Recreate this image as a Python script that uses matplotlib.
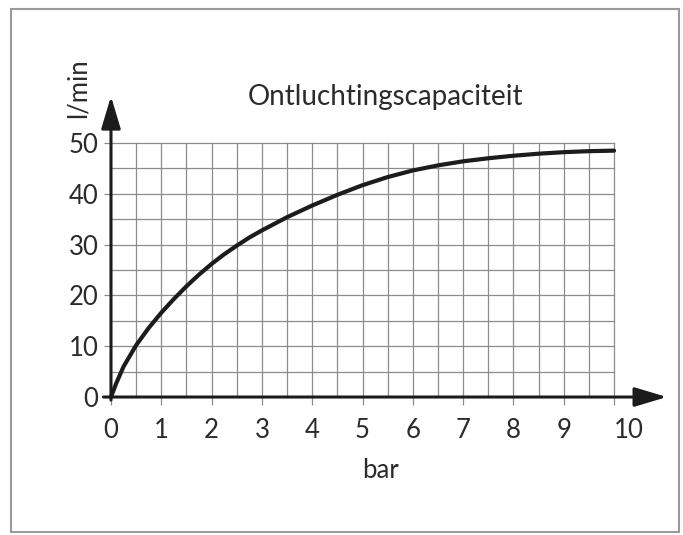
import matplotlib.pyplot as plt
from matplotlib.patches import Rectangle

# data
pressure = [0, 0.1, 0.25, 0.5, 0.75, 1, 1.25, 1.5, 1.75, 2, 2.25, 2.5, 2.75, 3,
            3.5, 4, 4.5, 5, 5.5, 6, 6.5, 7, 7.5, 8, 8.5, 9, 9.5, 10]
flow = [0, 2.6, 6.0, 10.2, 13.6, 16.6, 19.3, 21.8, 24.1, 26.2, 28.1, 29.8, 31.4, 32.8,
        35.4, 37.7, 39.8, 41.7, 43.3, 44.6, 45.6, 46.4, 47.0, 47.5, 47.9, 48.2, 48.4, 48.5]
x_ticks = list(range(0, 11))
y_ticks = list(range(0, 51, 10))
title = "Ontluchtingscapaciteit"
x_label = "bar"
y_label = "l/min"

plt.rcParams['font.family'] = ['Lato', 'DejaVu Sans']
text_color = '#2b2b2b'
grid_color = '#8c8c8c'
ink = '#1c1c1c'

fig = plt.figure(figsize=(6.83, 5.35), dpi=100)
ax = fig.add_axes([0.1625, 0.2579, 0.8249, 0.5697])
ax.set_xlim(0, 11.2)
ax.set_ylim(0, 60)
for s in ax.spines.values():
    s.set_visible(False)

# grid, every 0.5 bar and every 5 l/min
for i in range(1, 21):
    ax.plot([i * 0.5, i * 0.5], [0, 50], color=grid_color, lw=0.9, zorder=1)
for j in range(1, 11):
    ax.plot([0, 10], [j * 5, j * 5], color=grid_color, lw=0.9, zorder=1)

ax.set_xticks(x_ticks)
ax.set_yticks(y_ticks)
ax.tick_params(axis='x', direction='out', length=6, width=0.9, color=grid_color,
               pad=9, labelsize=18.5, labelcolor=text_color)
ax.tick_params(axis='y', direction='out', length=5, width=0.9, color=grid_color,
               pad=4, labelsize=18.5, labelcolor=text_color)
ax.get_xticklabels()[-1].set_ha('left')

# axes with arrows
arrow = dict(arrowstyle='-|>,head_length=0.6,head_width=0.18', lw=2.2,
             color=ink, mutation_scale=33, shrinkA=0, shrinkB=0)
ax.annotate('', xy=(0, 59.2), xytext=(0, -0.6), arrowprops=arrow,
            annotation_clip=False, zorder=4)
ax.annotate('', xy=(11.05, 0), xytext=(-0.15, 0), arrowprops=arrow,
            annotation_clip=False, zorder=4)

# curve
ax.plot(pressure, flow, color=ink, lw=3.0, solid_capstyle='round',
        solid_joinstyle='round', clip_on=False, zorder=5)

ax.text(5.45, 59, title, ha='center', va='center', fontsize=20,
        color=text_color)
ax.text(-0.66, 60.8, y_label, ha='center', va='center', rotation=90,
        fontsize=18.5, color=text_color, clip_on=False)
ax.text(5.35, -14.4, x_label, ha='center', va='center', fontsize=18.5,
        color=text_color, clip_on=False)

# grey frame round the picture
fig.patches.append(Rectangle((0.0161, 0.0056), 0.978, 0.9774,
                             transform=fig.transFigure, fill=False,
                             edgecolor='#9a9a9a', lw=1.5))

fig.savefig('out.png', dpi=100)
